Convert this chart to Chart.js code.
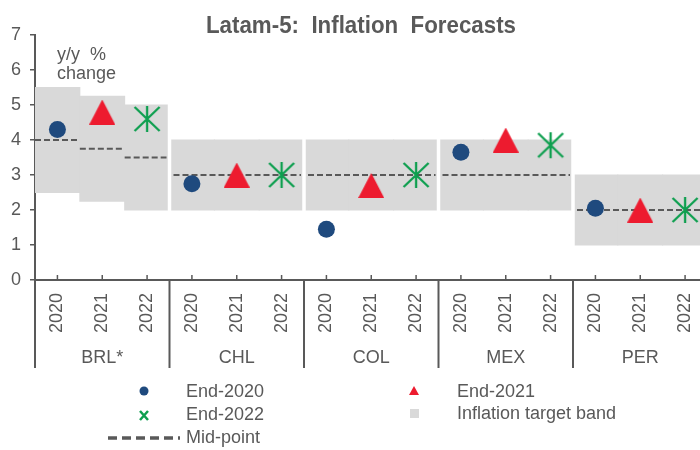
<!DOCTYPE html>
<html>
<head>
<meta charset="utf-8">
<title>Latam-5: Inflation Forecasts</title>
<script src="https://cdn.jsdelivr.net/npm/chart.js@4/dist/chart.umd.min.js"></script>
<style>
    body { margin: 0; background: #fff; overflow: hidden; }
    #chart { display: block; }
</style>
</head>
<body>
<!-- a bit wider than the window: the last group is cut off at the right edge, as in the original -->
<canvas id="chart" width="716" height="450"></canvas>
<script>
// data
const countries = ['BRL*', 'CHL', 'COL', 'MEX', 'PER'];
const years = ['2020', '2021', '2022'];
const end2020 = [4.3, 2.75, 1.45, 3.65, 2.05];
const end2021 = [4.8, 3.0, 2.7, 4.0, 2.0];
const end2022 = [4.6, 3.0, 3.0, 3.85, 2.0];
const bandLow = [2.5, 2.25, 2.0, 2, 2, 2, 2, 2, 2, 2, 2, 2, 1, 1, 1];
const bandHigh = [5.5, 5.25, 5.0, 4, 4, 4, 4, 4, 4, 4, 4, 4, 3, 3, 3];
const midPoint = [4, 3.75, 3.5, 3, 3, 3, 3, 3, 3, 3, 3, 3, 2, 2, 2];
const yTicks = [0, 1, 2, 3, 4, 5, 6, 7];

const GREY_TEXT = '#595959';
const FONT = "'Liberation Sans', Arial, sans-serif";
const BLUE = '#1F4A7E';
const RED = '#ED1B2F';
const GREEN = '#0E9F4F';
const BAND = '#D9D9D9';

// one label per category, years repeated for every country
const labels = countries.flatMap(() => years);

// put each forecast at its own year slot inside the country group
function spread(values, slot) {
    const out = new Array(labels.length).fill(null);
    values.forEach((v, i) => { out[i * years.length + slot] = v; });
    return out;
}

function triangleImage() {
    const c = document.createElement('canvas');
    c.width = 26; c.height = 25;
    const g = c.getContext('2d');
    g.fillStyle = RED;
    g.beginPath();
    g.moveTo(13, 0); g.lineTo(26, 25); g.lineTo(0, 25);
    g.closePath();
    g.fill();
    return c;
}

function starImage() {
    const c = document.createElement('canvas');
    c.width = 28; c.height = 28;
    const g = c.getContext('2d');
    g.strokeStyle = GREEN;
    g.lineWidth = 2.3;
    g.beginPath();
    g.moveTo(14, 1); g.lineTo(14, 27);
    g.moveTo(1.5, 2); g.lineTo(26.5, 26);
    g.moveTo(26.5, 2); g.lineTo(1.5, 26);
    g.stroke();
    return c;
}

const extrasPlugin = {
    id: 'extras',
    afterDatasetDraw(chart, args) {
        // runs right after the bands: white gaps between countries, then the mid-point dashes
        if (args.index !== 0) return;
        const x = chart.scales.x, y = chart.scales.y;
        const area = chart.chartArea;
        const ctx = chart.ctx;
        const half = (x.getPixelForValue(1) - x.getPixelForValue(0)) / 2;
        ctx.save();

        ctx.strokeStyle = '#ffffff';
        ctx.lineWidth = 3.5;
        for (let g = 1; g < countries.length; g++) {
            const px = x.getPixelForValue(g * 3) - half;
            ctx.beginPath();
            ctx.moveTo(px, area.top);
            ctx.lineTo(px, area.bottom - 2);
            ctx.stroke();
        }

        ctx.strokeStyle = GREY_TEXT;
        ctx.lineWidth = 2;
        ctx.setLineDash([6, 3]);
        let i = 0;
        while (i < midPoint.length) {
            let j = i;
            while (j + 1 < midPoint.length && midPoint[j + 1] === midPoint[i] &&
                   Math.floor((j + 1) / 3) === Math.floor(i / 3)) j++;
            const py = y.getPixelForValue(midPoint[i]);
            ctx.beginPath();
            ctx.moveTo(x.getPixelForValue(i) - half + (i % 3 === 0 && i > 0 ? 4 : 0), py);
            ctx.lineTo(x.getPixelForValue(j) + half - (j % 3 === 2 ? 3 : 0), py);
            ctx.stroke();
            i = j + 1;
        }
        ctx.restore();
    },
    afterDraw(chart) {
        const ctx = chart.ctx;
        const x = chart.scales.x;
        const area = chart.chartArea;
        const half = (x.getPixelForValue(1) - x.getPixelForValue(0)) / 2;
        ctx.save();

        // title
        ctx.fillStyle = GREY_TEXT;
        ctx.font = 'bold 24px ' + FONT;
        ctx.textAlign = 'center';
        ctx.textBaseline = 'alphabetic';
        ctx.save();
        ctx.translate(361, 33);
        ctx.scale(0.93, 1);
        ctx.fillText('Latam-5:  Inflation  Forecasts', 0, 0);
        ctx.restore();

        // unit label
        ctx.font = '18px ' + FONT;
        ctx.textAlign = 'left';
        ctx.fillText('y/y  %', 57, 60);
        ctx.fillText('change', 57, 79);

        // small ticks at each category
        ctx.strokeStyle = GREY_TEXT;
        ctx.lineWidth = 1.5;
        labels.forEach((l, i) => {
            const px = x.getPixelForValue(i);
            ctx.beginPath();
            ctx.moveTo(px, area.bottom);
            ctx.lineTo(px, area.bottom - 5);
            ctx.stroke();
        });

        // year labels, rotated
        ctx.font = '18px ' + FONT;
        ctx.textAlign = 'center';
        ctx.textBaseline = 'middle';
        labels.forEach((l, i) => {
            ctx.save();
            ctx.translate(x.getPixelForValue(i), 313);
            ctx.rotate(-Math.PI / 2);
            ctx.fillText(l, 0, 0);
            ctx.restore();
        });

        // group separators and country names
        ctx.lineWidth = 2;
        for (let g = 0; g <= countries.length; g++) {
            const px = x.getPixelForValue(g * 3) - half;
            ctx.beginPath();
            ctx.moveTo(px, area.bottom);
            ctx.lineTo(px, 368);
            ctx.stroke();
        }
        countries.forEach((c, g) => {
            ctx.fillText(c, x.getPixelForValue(g * 3 + 1), 358);
        });

        // legend
        ctx.font = '18px ' + FONT;
        ctx.textAlign = 'left';
        ctx.fillText('End-2020', 186, 392);
        ctx.fillText('End-2021', 457, 392);
        ctx.fillText('End-2022', 186, 415);
        ctx.fillText('Inflation target band', 457, 414);
        ctx.fillText('Mid-point', 186, 438);

        ctx.fillStyle = BLUE;
        ctx.beginPath();
        ctx.arc(144, 391, 4.5, 0, Math.PI * 2);
        ctx.fill();

        ctx.fillStyle = RED;
        ctx.beginPath();
        ctx.moveTo(414, 386); ctx.lineTo(419, 395); ctx.lineTo(409, 395);
        ctx.closePath();
        ctx.fill();

        ctx.strokeStyle = GREEN;
        ctx.lineWidth = 2.5;
        ctx.beginPath();
        ctx.moveTo(140, 411); ctx.lineTo(148, 420);
        ctx.moveTo(148, 411); ctx.lineTo(140, 420);
        ctx.stroke();

        ctx.fillStyle = BAND;
        ctx.fillRect(410, 409, 9, 9);

        ctx.strokeStyle = GREY_TEXT;
        ctx.lineWidth = 3.5;
        ctx.setLineDash([9, 5]);
        ctx.beginPath();
        ctx.moveTo(108, 438); ctx.lineTo(180, 438);
        ctx.stroke();

        ctx.restore();
    }
};

new Chart(document.getElementById('chart').getContext('2d'), {
    data: {
        labels: labels,
        datasets: [
            {
                type: 'bar',
                label: 'Inflation target band',
                data: bandLow.map((low, i) => [low, bandHigh[i]]),
                backgroundColor: BAND,
                borderWidth: 0,
                inflateAmount: 0.5,
                barPercentage: 1,
                categoryPercentage: 1,
                order: 10
            },
            {
                type: 'line',
                label: 'End-2020',
                data: spread(end2020, 0),
                showLine: false,
                pointStyle: 'circle',
                pointRadius: 8.5,
                pointBackgroundColor: BLUE,
                pointBorderWidth: 0,
                order: 3
            },
            {
                type: 'line',
                label: 'End-2021',
                data: spread(end2021, 1),
                showLine: false,
                pointStyle: triangleImage(),
                order: 2
            },
            {
                type: 'line',
                label: 'End-2022',
                data: spread(end2022, 2),
                showLine: false,
                pointStyle: starImage(),
                order: 1
            }
        ]
    },
    options: {
        responsive: false,
        animation: false,
        events: [],
        layout: { padding: { top: 35, right: 0, bottom: 0, left: 0 } },
        plugins: {
            legend: { display: false },
            tooltip: { enabled: false },
            title: { display: false }
        },
        scales: {
            x: {
                type: 'category',
                grid: { display: false },
                ticks: { display: false },
                border: { color: GREY_TEXT, width: 2 },
                afterFit: s => { s.height = 170; }
            },
            y: {
                min: yTicks[0],
                max: yTicks[yTicks.length - 1],
                afterBuildTicks: s => { s.ticks = yTicks.map(v => ({ value: v })); },
                ticks: {
                    color: GREY_TEXT,
                    font: { family: FONT, size: 18 },
                    padding: 9
                },
                grid: {
                    drawOnChartArea: false,
                    drawTicks: true,
                    tickLength: 5,
                    color: GREY_TEXT,
                    lineWidth: 1.5
                },
                border: { color: GREY_TEXT, width: 2 },
                afterFit: s => { s.width = 35; }
            }
        }
    },
    plugins: [extrasPlugin]
});
</script>
</body>
</html>
